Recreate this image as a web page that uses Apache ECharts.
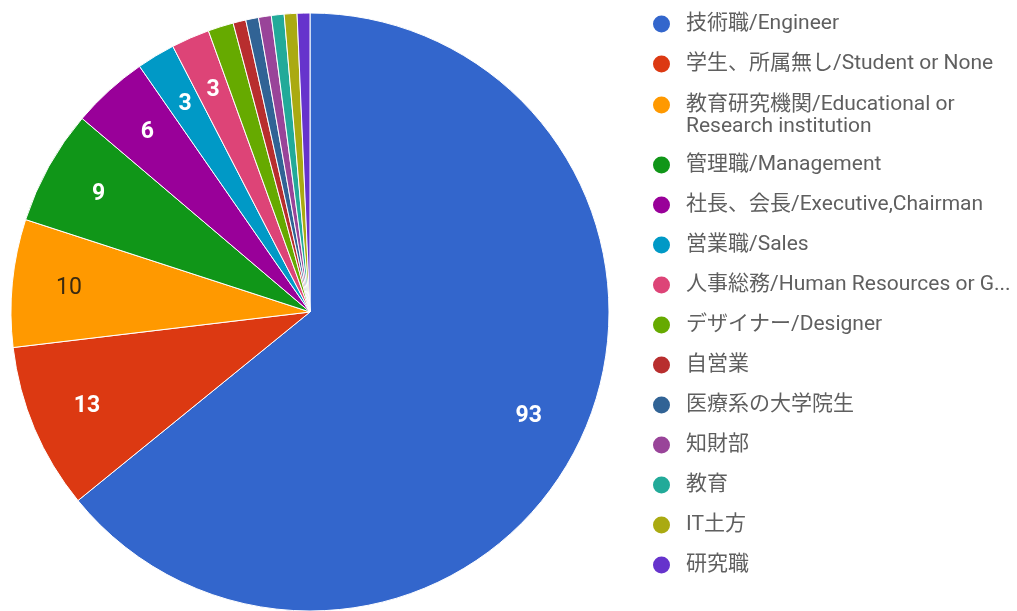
<!DOCTYPE html>
<html><head><meta charset="utf-8">
<script src="https://cdn.jsdelivr.net/npm/echarts@6/dist/echarts.min.js"></script>
<style>html,body{margin:0;padding:0;background:#fff}#c{width:1017px;height:611px}</style>
</head><body><div id="c"></div>
<script>
const categories = [
  '技術職/Engineer',
  '学生、所属無し/Student or None',
  '教育研究機関/Educational or Research institution',
  '管理職/Management',
  '社長、会長/Executive,Chairman',
  '営業職/Sales',
  '人事総務/Human Resources or General Affairs',
  'デザイナー/Designer',
  '自営業',
  '医療系の大学院生',
  '知財部',
  '教育',
  'IT土方',
  '研究職'
];
const values = [93, 13, 10, 9, 6, 3, 3, 2, 1, 1, 1, 1, 1, 1];
const colors = ['#3366cc','#dc3912','#ff9900','#109618','#990099','#0099c6','#dd4477','#66aa00','#b82e2e','#316395','#994499','#22aa99','#aaaa11','#6633cc'];
const darkLabel = [false,false,true,false,false,false,false,false,false,false,false,false,false,false];

const R = 299;
const mainData = categories.map((n,i)=>({name:n, value:values[i], itemStyle:{color:colors[i]}}));
const labelData = categories.map((n,i)=>({
  name:n, value:values[i],
  itemStyle:{color:'rgba(0,0,0,0)', borderWidth:0},
  label:{show: values[i] >= 3, color: darkLabel[i] ? '#3a2a10' : '#fff', fontWeight: darkLabel[i] ? 'normal' : 'bold'}
}));

const legendText = {color:'#5f5f5f', fontSize:21, fontFamily:'Roboto, "Noto Sans CJK JP", sans-serif', lineHeight:22, padding:[0,0,0,10]};
const chart = echarts.init(document.getElementById('c'), null, {renderer:'canvas'});
chart.setOption({
  backgroundColor:'#fff',
  animation:false,
  legend:[
    {orient:'vertical', left:651, top:13, padding:0, itemGap:18, itemWidth:19, itemHeight:19, icon:'circle',
     data:categories.slice(0,2), textStyle:legendText},
    {orient:'vertical', left:651, top:72, padding:0, itemGap:18, itemWidth:19, itemHeight:19, icon:'circle',
     data:categories.slice(2,3), formatter:()=> '\n教育研究機関/Educational or\nResearch institution',
     textStyle:legendText},
    {orient:'vertical', left:651, top:154, padding:0, itemGap:18, itemWidth:19, itemHeight:19, icon:'circle',
     data:categories.slice(3), textStyle:Object.assign({}, legendText, {width:336, overflow:'truncate', ellipsis:'...'})}
  ],
  series:[
    {type:'pie', center:[310,312], radius:[0,R], startAngle:90, clockwise:true,
     itemStyle:{borderColor:'#fff', borderWidth:1}, label:{show:false}, labelLine:{show:false},
     data:mainData, silent:true},
    {type:'pie', center:[310,312], radius:[R*0.6,R], startAngle:90, clockwise:true,
     label:{show:true, position:'inside', fontSize:23, fontFamily:'Roboto, sans-serif', formatter:'{c}'},
     labelLine:{show:false}, data:labelData, silent:true}
  ]
});
</script></body></html>
